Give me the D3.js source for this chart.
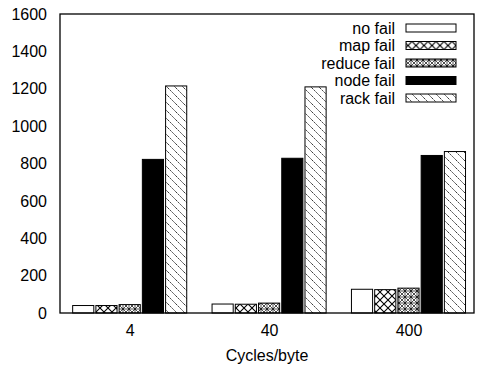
<!DOCTYPE html>
<html>
<head>
<meta charset="utf-8">
<script src="https://cdn.jsdelivr.net/npm/d3@7"></script>
<style>
  body { margin: 0; background: #fff; }
  svg { font-family: "Liberation Sans", Arial, sans-serif; }
</style>
</head>
<body>
<div id="chart"></div>
<script>
const categories = ["4", "40", "400"]
const seriesNames = ["no fail", "map fail", "reduce fail", "node fail", "rack fail"]
const noFail = [40, 48, 127]
const mapFail = [40, 47, 125]
const reduceFail = [45, 53, 133]
const nodeFail = [822, 828, 843]
const rackFail = [1215, 1210, 864]
const yTicks = [0, 200, 400, 600, 800, 1000, 1200, 1400, 1600]

const series = [noFail, mapFail, reduceFail, nodeFail, rackFail]

const width = 478, height = 371
const margin = {top: 14, right: 4, bottom: 58, left: 60}
const fontSize = 16

const svg = d3.select("#chart").append("svg")
  .attr("width", width)
  .attr("height", height)

// fill patterns, roughly like gnuplot's
const defs = svg.append("defs")

function pattern(id, size, draw) {
  let p = defs.append("pattern")
    .attr("id", id)
    .attr("patternUnits", "userSpaceOnUse")
    .attr("width", size)
    .attr("height", size)
  p.append("rect").attr("width", size).attr("height", size).attr("fill", "#fff")
  draw(p, size)
}

pattern("p_map", 8, (p, s) => {
  p.append("path").attr("d", `M0,0L${s},${s}M${s},0L0,${s}`)
    .attr("stroke", "#000").attr("stroke-width", 1.1).attr("fill", "none")
})
pattern("p_reduce", 6, (p, s) => {
  p.append("path").attr("d", `M0,0L${s},${s}M${s},0L0,${s}M${s/2},0V${s}M0,${s/2}H${s}`)
    .attr("stroke", "#000").attr("stroke-width", 0.7).attr("fill", "none")
})
pattern("p_rack", 8, (p, s) => {
  p.append("path").attr("d", `M0,0L${s},${s}M${-s},0L${s},${2*s}M0,${-s}L${2*s},${s}`)
    .attr("stroke", "#222").attr("stroke-width", 0.9).attr("stroke-dasharray", "2,1").attr("fill", "none")
})

const fills = ["#fff", "url(#p_map)", "url(#p_reduce)", "#000", "url(#p_rack)"]

const x = d3.scaleLinear()
  .domain([0.5, 3.47])
  .range([margin.left, width - margin.right])

const y = d3.scaleLinear()
  .domain([0, 1600])
  .range([height - margin.bottom, margin.top])

const unit = x(2) - x(1)
const slot = unit / 6
const barW = slot * 0.91

// bars
series.forEach((vals, s) => {
  svg.append("g")
    .selectAll("rect")
    .data(vals)
    .enter()
    .append("rect")
    .attr("x", (d, i) => x(i + 1) + (s - 2) * slot - barW / 2)
    .attr("y", d => y(d))
    .attr("width", barW)
    .attr("height", d => y(0) - y(d))
    .attr("fill", fills[s])
    .attr("stroke", "#000")
    .attr("stroke-width", 1)
})

// frame
svg.append("rect")
  .attr("x", margin.left)
  .attr("y", margin.top)
  .attr("width", width - margin.left - margin.right)
  .attr("height", height - margin.top - margin.bottom)
  .attr("fill", "none")
  .attr("stroke", "#000")
  .attr("stroke-width", 1.3)

// y tick labels
svg.append("g")
  .attr("transform", "translate(" + margin.left + ",0)")
  .call(d3.axisLeft(y).tickValues(yTicks).tickFormat(d3.format("d")).tickSize(0).tickPadding(13))
  .call(g => g.select(".domain").remove())
  .selectAll("text")
  .attr("font-size", fontSize)
  .attr("fill", "#000")
  .attr("font-family", "Liberation Sans, Arial, sans-serif")

// x tick labels
svg.append("g")
  .attr("transform", "translate(0," + (height - margin.bottom) + ")")
  .call(d3.axisBottom(x).tickValues([1, 2, 3]).tickFormat((d, i) => categories[i]).tickSize(0).tickPadding(12))
  .call(g => g.select(".domain").remove())
  .selectAll("text")
  .attr("font-size", fontSize)
  .attr("fill", "#000")
  .attr("font-family", "Liberation Sans, Arial, sans-serif")

svg.append("text")
  .attr("x", (x(0.5) + x(3.47)) / 2)
  .attr("y", 361)
  .attr("text-anchor", "middle")
  .attr("font-size", fontSize)
  .text("Cycles/byte")

// legend
const legend = svg.append("g")
  .selectAll("g")
  .data(seriesNames)
  .enter()
  .append("g")
  .attr("transform", (d, i) => "translate(0," + (28 + i * 17.5) + ")")

legend.append("text")
  .attr("x", 395)
  .attr("dy", "0.35em")
  .attr("text-anchor", "end")
  .attr("font-size", fontSize)
  .text(d => d)

legend.append("rect")
  .attr("x", 406)
  .attr("y", -4)
  .attr("width", 50)
  .attr("height", 8)
  .attr("fill", (d, i) => fills[i])
  .attr("stroke", "#000")
  .attr("stroke-width", 1)
</script>
</body>
</html>
